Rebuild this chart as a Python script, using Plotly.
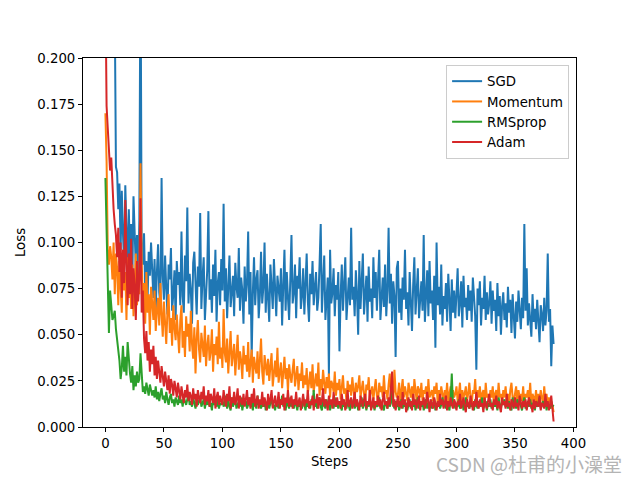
import plotly.graph_objects as go

# Loss values, in units of 1e-3 (thousandths)
steps = list(range(384))

sgd_milli = [
    350, 310, 290, 330, 270, 300, 260, 240, 225, 141,
    138, 118, 132, 96, 128, 105, 88, 131, 100, 84,
    118, 92, 110, 80, 125, 98, 86, 104, 78, 112,
    260, 95, 88, 105, 74, 90, 68, 95, 82, 100,
    78, 70, 91, 64, 84, 99, 73, 66, 135, 82,
    69, 93, 75, 61, 88, 80, 97, 63, 72, 85,
    58, 90, 77, 84, 66, 106, 71, 62, 93, 79,
    119, 67, 83, 74, 56, 89, 95, 70, 61, 87,
    76, 116, 64, 81, 92, 58, 73, 85, 117, 69,
    80, 62, 88, 71, 96, 57, 78, 84, 66, 91,
    74, 121, 68, 86, 59, 79, 93, 65, 72, 82,
    60, 89, 76, 70, 97, 63, 81, 74, 56, 87,
    68, 78, 106, 61, 84, 38, 73, 92, 66, 80,
    85, 59, 71, 95, 67, 76, 100, 62, 83, 70,
    57, 88, 74, 64, 91, 79, 60, 82, 72, 68,
    86, 55, 77, 96, 63, 84, 70, 58, 80, 104,
    67, 73, 88, 59, 82, 75, 92, 64, 71, 86,
    61, 79, 94, 68, 57, 83, 72, 90, 66, 76,
    84, 63, 70, 88, 110, 62, 78, 93, 58, 74,
    81, 28, 96, 67, 73, 86, 60, 77, 69, 84,
    41, 71, 88, 63, 79, 92, 58, 74, 81, 66,
    108, 69, 76, 60, 85, 72, 50, 90, 64, 79,
    94, 61, 73, 82, 57, 87, 68, 75, 59, 92,
    70, 84, 63, 77, 96, 58, 72, 81, 65, 88,
    60, 74, 108, 67, 83, 56, 79, 71, 38, 86,
    90, 62, 75, 58, 81, 69, 96, 64, 73, 55,
    84, 68, 52, 77, 92, 61, 74, 86, 59, 70,
    79, 63, 104, 57, 72, 85, 60, 90, 67, 74,
    58, 82, 43, 100, 66, 76, 61, 88, 55, 71,
    64, 78, 57, 83, 69, 52, 80, 62, 74, 59,
    72, 86, 60, 67, 79, 54, 82, 65, 70, 58,
    77, 63, 74, 57, 81, 68, 60, 31, 75, 66,
    79, 55, 70, 64, 82, 58, 73, 61, 67, 79,
    56, 74, 63, 69, 52, 78, 60, 71, 50, 66,
    73, 58, 67, 54, 76, 62, 69, 51, 72, 60,
    48, 68, 57, 74, 61, 53, 70, 59, 110, 63,
    86, 55, 67, 60, 49, 72, 57, 64, 53, 69,
    58, 46, 66, 61, 52, 70, 55, 63, 94, 57,
    64, 33, 55, 45,
]

momentum_milli = [
    170, 144, 96, 88, 98, 92, 80, 100, 72, 94,
    86, 66, 90, 78, 62, 96, 74, 84, 58, 92,
    70, 80, 64, 88, 60, 76, 94, 66, 82, 72,
    143, 90, 68, 78, 56, 84, 62, 72, 50, 76,
    66, 58, 74, 52, 63, 70, 55, 78, 61, 49,
    68, 57, 45, 63, 72, 51, 59, 44, 66, 54,
    47, 61, 53, 40, 58, 66, 43, 52, 38, 60,
    49, 56, 41, 63, 45, 37, 54, 29, 48, 58,
    42, 35, 51, 46, 38, 55, 33, 44, 50, 36,
    41, 53, 30, 45, 39, 49, 34, 57, 37, 43,
    32, 64, 40, 35, 48, 29, 42, 52, 33, 38,
    45, 28, 37, 50, 31, 41, 36, 26, 44, 34,
    39, 30, 46, 27, 35, 42, 24, 38, 33, 29,
    41, 26, 36, 48, 30, 23, 39, 34, 28, 37,
    25, 33, 40, 22, 31, 36, 27, 43, 24, 30,
    35, 21, 29, 38, 26, 32, 19, 34, 28, 24,
    31, 37, 22, 27, 33, 20, 29, 25, 35, 21,
    28, 23, 32, 18, 26, 30, 21, 34, 19, 25,
    29, 22, 35, 17, 26, 20, 31, 24, 18, 27,
    21, 29, 16, 25, 23, 19, 30, 17, 24, 20,
    26, 15, 22, 28, 18, 21, 14, 25, 19, 23,
    17, 27, 20, 15, 24, 19, 22, 28, 16, 21,
    25, 18, 14, 23, 20, 27, 16, 19, 22, 15,
    21, 26, 17, 13, 24, 19, 22, 16, 28, 18,
    20, 15, 23, 29, 17, 21, 14, 31, 19, 16,
    18, 24, 14, 20, 26, 16, 22, 18, 14, 24,
    20, 16, 22, 12, 26, 18, 14, 22, 20, 16,
    24, 14, 20, 18, 22, 12, 26, 16, 18, 20,
    14, 22, 18, 24, 12, 20, 16, 22, 18, 14,
    20, 16, 24, 14, 18, 22, 12, 20, 16, 18,
    22, 14, 18, 24, 12, 20, 16, 18, 22, 14,
    18, 24, 16, 12, 20, 18, 26, 14, 20, 16,
    22, 14, 18, 20, 12, 24, 16, 18, 14, 20,
    16, 22, 12, 18, 20, 14, 24, 16, 18, 12,
    20, 16, 22, 14, 18, 12, 20, 24, 16, 14,
    18, 22, 12, 20, 16, 18, 14, 22, 12, 18,
    16, 20, 14, 24, 12, 18, 16, 14, 20, 12,
    18, 14, 20, 16, 12, 22, 14, 18, 12, 16,
    14, 10, 12, 8,
]

rmsprop_milli = [
    135, 100, 78, 51, 74, 66, 58, 60, 63, 53,
    48, 40, 36, 26, 32, 44, 30, 38, 28, 46,
    34, 29, 24, 33, 20, 28, 22, 30, 24, 26,
    40, 25, 19, 22, 18, 24, 20, 17, 23, 19,
    17, 20, 16, 22, 15, 19, 14, 18, 21, 15,
    17, 13, 19, 15, 12, 16, 18, 13, 15, 11,
    16, 14, 12, 17, 13, 15, 11, 16, 14, 12,
    15, 18, 12, 14, 11, 16, 13, 10, 15, 12,
    14, 17, 11, 13, 15, 10, 14, 12, 16, 11,
    13, 9, 15, 12, 14, 11, 16, 10, 13, 12,
    15, 11, 13, 17, 10, 14, 12, 9, 16, 11,
    13, 15, 10, 12, 14, 11, 16, 9, 13, 12,
    14, 10, 12, 16, 11, 13, 9, 15, 12, 10,
    17, 12, 14, 10, 13, 11, 15, 9, 12, 14,
    10, 13, 16, 11, 12, 9, 14, 12, 10, 15,
    12, 17, 11, 13, 9, 14, 12, 10, 16, 11,
    13, 10, 15, 12, 9, 14, 11, 13, 10, 16,
    12, 9, 14, 11, 13, 10, 15, 12, 20, 11,
    14, 10, 13, 16, 11, 9, 14, 12, 10, 15,
    11, 13, 9, 14, 12, 10, 16, 11, 13, 10,
    14, 12, 9, 15, 11, 13, 10, 14, 12, 9,
    13, 11, 15, 10, 12, 14, 9, 13, 11, 16,
    10, 12, 14, 9, 13, 11, 15, 10, 12, 13,
    9, 14, 11, 12, 16, 10, 13, 11, 9, 14,
    12, 10, 15, 11, 13, 20, 12, 10, 14, 11,
    13, 9, 12, 15, 10, 14, 11, 13, 9, 12,
    15, 10, 13, 11, 14, 9, 12, 16, 10, 13,
    11, 14, 9, 12, 15, 10, 13, 11, 14, 10,
    12, 15, 9, 13, 11, 14, 10, 12, 16, 11,
    13, 10, 14, 12, 9, 15, 29, 12, 14, 10,
    13, 11, 15, 10, 12, 14, 9, 13, 16, 11,
    12, 10, 14, 11, 13, 9, 15, 12, 10, 14,
    11, 13, 16, 10, 12, 14, 9, 13, 11, 15,
    10, 12, 14, 11, 13, 9, 16, 12, 10, 14,
    12, 15, 11, 13, 10, 14, 12, 9, 16, 11,
    13, 10, 15, 12, 14, 11, 9, 13, 16, 10,
    12, 14, 11, 15, 10, 13, 12, 9, 14, 11,
    13, 16, 10, 12, 14, 11, 15, 9, 13, 12,
    10, 14, 11, 12,
]

adam_milli = [
    240, 174, 162, 148, 139, 146, 128, 118, 110, 104,
    92, 108, 84, 100, 70, 96, 78, 123, 88, 66,
    94, 72, 102, 64, 86, 76, 58, 90, 68, 80,
    124, 62, 74, 48, 40, 52, 36, 46, 30, 42,
    34, 44, 28, 38, 26, 36, 30, 24, 33, 27,
    22, 30, 25, 20, 28, 18, 26, 23, 17, 25,
    21, 16, 24, 19, 15, 22, 18, 13, 20, 16,
    23, 14, 19, 17, 12, 21, 15, 18, 11, 20,
    16, 13, 19, 15, 22, 12, 17, 14, 20, 11,
    18, 15, 13, 21, 10, 16, 19, 12, 17, 14,
    12, 20, 15, 11, 18, 14, 22, 10, 16, 13,
    19, 12, 15, 21, 10, 17, 14, 12, 18, 11,
    15, 20, 12, 16, 10, 18, 13, 21, 11, 14,
    17, 10, 15, 12, 19, 11, 16, 13, 9, 18,
    12, 15, 20, 10, 14, 17, 11, 13, 19, 10,
    15, 12, 18, 9, 16, 13, 20, 11, 14, 17,
    10, 15, 12, 19, 11, 14, 16, 9, 13, 18,
    11, 15, 13, 20, 10, 14, 12, 17, 9, 15,
    13, 18, 10, 16, 12, 14, 21, 11, 15, 13,
    9, 17, 12, 15, 10, 19, 13, 11, 16, 12,
    14, 10, 18, 12, 15, 9, 13, 20, 11, 14,
    16, 10, 13, 19, 11, 15, 12, 9, 17, 13,
    11, 15, 18, 10, 14, 12, 20, 9, 13, 16,
    10, 14, 12, 17, 11, 15, 9, 13, 19, 12,
    14, 10, 16, 12, 22, 30, 11, 15, 9, 13,
    17, 11, 14, 10, 19, 12, 15, 8, 13, 16,
    11, 14, 9, 18, 12, 15, 10, 13, 17, 9,
    14, 12, 16, 10, 13, 19, 11, 8, 15, 12,
    10, 16, 13, 9, 14, 11, 18, 12, 15, 10,
    13, 17, 9, 14, 11, 16, 12, 10, 15, 13,
    9, 14, 12, 18, 10, 13, 16, 11, 8, 15,
    12, 10, 17, 13, 9, 14, 11, 19, 12, 10,
    15, 11, 13, 8, 16, 12, 10, 14, 18, 11,
    13, 9, 15, 12, 17, 10, 14, 11, 8, 16,
    12, 14, 10, 18, 11, 13, 9, 15, 12, 10,
    16, 11, 13, 9, 17, 12, 10, 14, 11, 15,
    9, 13, 16, 11, 12, 8, 15, 10, 14, 12,
    11, 17, 9, 13, 12, 10, 18, 11, 14, 9,
    12, 17, 8, 3,
]

series_names = ["SGD", "Momentum", "RMSprop", "Adam"]
series_values = [sgd_milli, momentum_milli, rmsprop_milli, adam_milli]
colors = ["#1f77b4", "#ff7f0e", "#2ca02c", "#d62728"]

x_ticks = [0, 50, 100, 150, 200, 250, 300, 350, 400]
y_ticks = [0.0, 0.025, 0.05, 0.075, 0.1, 0.125, 0.15, 0.175, 0.2]

font_family = "DejaVu Sans"
fs = 13.3

fig = go.Figure()
for name, vals, col in zip(series_names, series_values, colors):
    fig.add_trace(go.Scatter(
        x=steps[:len(vals)],
        y=[v / 1000 for v in vals],
        mode="lines",
        name=name,
        line=dict(color=col, width=2),
    ))

axis_common = dict(
    showgrid=False, zeroline=False,
    showline=True, linecolor="black", linewidth=1, mirror=True,
    ticks="outside", ticklen=4, tickcolor="black", tickwidth=1,
    tickfont=dict(family=font_family, size=fs, color="black"),
)

fig.update_layout(
    width=632, height=472,
    margin=dict(l=72, r=64, t=50, b=53),
    paper_bgcolor="white", plot_bgcolor="white",
    font=dict(family=font_family, size=fs, color="black"),
    xaxis=dict(range=[-19.15, 402.15], tickvals=x_ticks,
               title=dict(text="Steps", font=dict(size=fs), standoff=6),
               **axis_common),
    yaxis=dict(range=[0, 0.2], tickvals=y_ticks, tickformat=".3f",
               title=dict(text="Loss", font=dict(size=fs), standoff=8),
               **axis_common),
    legend=dict(x=0.986, y=0.981, xanchor="right", yanchor="top",
                bgcolor="rgba(255,255,255,0.8)", bordercolor="#cccccc",
                borderwidth=1, font=dict(size=fs), tracegroupgap=0),
    showlegend=True,
)

fig.add_annotation(
    text="CSDN @杜甫的小澡堂", xref="paper", yref="paper",
    x=1.097, y=-0.098, xanchor="right", yanchor="middle", showarrow=False,
    font=dict(family="Noto Sans CJK SC", size=19, color="#b4b4b4"),
)

fig.write_html("out.html")
